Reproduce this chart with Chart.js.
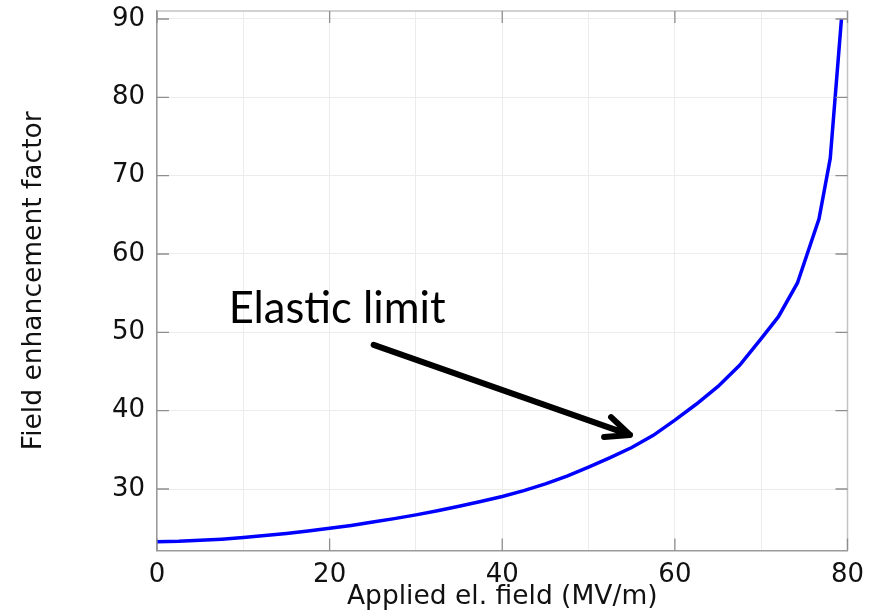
<!DOCTYPE html>
<html>
<head>
<meta charset="utf-8">
<script src="https://cdn.jsdelivr.net/npm/chart.js@4/dist/chart.umd.min.js"></script>
<style>
  html, body { margin: 0; padding: 0; background: #fff; }
  #wrap { width: 877px; height: 613px; }
</style>
</head>
<body>
<div id="wrap"><canvas id="chart"></canvas></div>
<script>
// Du lieu doc tu hinh
const fieldValues = [0, 2.5, 5, 7.5, 10, 12.5, 15, 17.5, 20, 22.5, 25, 27.5, 30, 32.5, 35, 37.5, 40, 42.5, 45, 47.5, 50, 52.5, 55, 57.5, 60, 62.5, 65, 67.5, 70, 72, 74.2, 76.7, 78.0, 79.3];
const enhancementValues = [23.27, 23.32, 23.45, 23.6, 23.8, 24.05, 24.33, 24.63, 24.98, 25.35, 25.78, 26.22, 26.7, 27.22, 27.8, 28.4, 29.05, 29.8, 30.65, 31.65, 32.8, 34.0, 35.3, 36.85, 38.8, 40.85, 43.1, 45.8, 49.2, 52.0, 56.3, 64.5, 72.2, 90];
const xGridValues = [0, 10, 20, 30, 40, 50, 60, 70, 80];
const xTickLabels = [0, 20, 40, 60, 80];
const yTickValues = [30, 40, 50, 60, 70, 80, 90];
const yRange = [22.15, 91.02];

// Chu thich "Elastic limit" (toa do du lieu)
const noteText = 'Elastic limit';
const noteAt = [8.3, 51.2];
const arrowFrom = [25.1, 48.4];
const arrowTo = [54.8, 36.9];

const tickFont = { family: 'DejaVu Sans', size: 26 };
const titleFont = { family: 'DejaVu Sans', size: 26.5 };

function buildPoints() {
  const pts = [];
  for (let i = 0; i < fieldValues.length; i++) {
    pts.push({ x: fieldValues[i], y: enhancementValues[i] });
  }
  return pts;
}

// khung, vach chia huong vao trong, mui ten
const boxPlugin = {
  id: 'boxPlugin',
  afterDraw(chart) {
    const ctx = chart.ctx;
    const a = chart.chartArea;
    const sx = chart.scales.x;
    const sy = chart.scales.y;
    ctx.save();

    ctx.strokeStyle = '#c4c4c4';
    ctx.lineWidth = 1.5;
    ctx.beginPath();
    ctx.moveTo(a.left, a.top);
    ctx.lineTo(a.right, a.top);
    ctx.lineTo(a.right, a.bottom);
    ctx.stroke();

    ctx.strokeStyle = '#8e8e8e';
    ctx.lineWidth = 1.3;
    const tl = 12;
    ctx.beginPath();
    yTickValues.forEach((v) => {
      const py = sy.getPixelForValue(v);
      ctx.moveTo(a.left, py);
      ctx.lineTo(a.left + tl, py);
      ctx.moveTo(a.right, py);
      ctx.lineTo(a.right - tl, py);
    });
    xTickLabels.forEach((v) => {
      const px = sx.getPixelForValue(v);
      ctx.moveTo(px, a.bottom);
      ctx.lineTo(px, a.bottom - tl);
      ctx.moveTo(px, a.top);
      ctx.lineTo(px, a.top + tl);
    });
    ctx.stroke();

    // chu
    ctx.fillStyle = '#000';
    ctx.font = '40px Lato';
    const w = ctx.measureText(noteText).width;
    const size = 40 * 217 / w;
    ctx.font = size + 'px Lato';
    ctx.textBaseline = 'alphabetic';
    ctx.textAlign = 'left';
    ctx.fillText(noteText, sx.getPixelForValue(noteAt[0]), sy.getPixelForValue(noteAt[1]));

    // mui ten
    const x0 = sx.getPixelForValue(arrowFrom[0]);
    const y0 = sy.getPixelForValue(arrowFrom[1]);
    const x1 = sx.getPixelForValue(arrowTo[0]);
    const y1 = sy.getPixelForValue(arrowTo[1]);
    const ang = Math.atan2(y1 - y0, x1 - x0);
    const head = 26;
    const spread = 24 * Math.PI / 180;
    ctx.strokeStyle = '#000';
    ctx.lineWidth = 6;
    ctx.lineCap = 'round';
    ctx.lineJoin = 'round';
    ctx.beginPath();
    ctx.moveTo(x0, y0);
    ctx.lineTo(x1, y1);
    ctx.moveTo(x1 - head * Math.cos(ang - spread), y1 - head * Math.sin(ang - spread));
    ctx.lineTo(x1, y1);
    ctx.lineTo(x1 - head * Math.cos(ang + spread), y1 - head * Math.sin(ang + spread));
    ctx.stroke();

    ctx.restore();
  }
};

function drawChart() {
  const canvas = document.getElementById('chart');
  const context = canvas.getContext('2d');

  const configChart = {
    type: 'line',
    data: {
      datasets: [{
        data: buildPoints(),
        borderColor: '#0000ff',
        backgroundColor: 'transparent',
        borderWidth: 3.5,
        pointRadius: 0,
        tension: 0,
        fill: false
      }]
    },
    options: {
      responsive: true,
      maintainAspectRatio: false,
      animation: false,
      layout: { padding: { top: 11, right: 29.5, bottom: 0, left: 0 } },
      plugins: {
        legend: { display: false },
        tooltip: { enabled: false }
      },
      scales: {
        x: {
          type: 'linear',
          min: 0,
          max: 80,
          afterBuildTicks: (scale) => {
            scale.ticks = xGridValues.map((v) => ({ value: v }));
          },
          afterFit: (scale) => { scale.height = 62.5; },
          grid: { color: '#ececec', lineWidth: 1, drawTicks: false },
          border: { display: true, color: '#9a9a9a', width: 1.5 },
          ticks: {
            autoSkip: false,
            maxRotation: 0,
            padding: 9,
            color: '#111',
            font: tickFont,
            callback: (value) => (xTickLabels.includes(value) ? String(value) : '')
          },
          title: {
            display: true,
            text: 'Applied el. field (MV/m)',
            color: '#111',
            font: titleFont,
            padding: { top: 0, bottom: 0 }
          }
        },
        y: {
          type: 'linear',
          min: yRange[0],
          max: yRange[1],
          afterBuildTicks: (scale) => {
            scale.ticks = yTickValues.map((v) => ({ value: v }));
          },
          afterFit: (scale) => {
            scale.width = 157;
            scale.paddingTop = 0;
            scale.paddingBottom = 0;
          },
          grid: { color: '#ececec', lineWidth: 1, drawTicks: false },
          border: { display: true, color: '#9a9a9a', width: 1.5 },
          ticks: {
            autoSkip: false,
            padding: 12,
            color: '#111',
            font: tickFont
          },
          title: {
            display: true,
            text: 'Field enhancement factor',
            color: '#111',
            font: titleFont,
            padding: { top: 18, bottom: 0 }
          }
        }
      }
    },
    plugins: [boxPlugin]
  };

  new Chart(context, configChart);
}

drawChart();
</script>
</body>
</html>
